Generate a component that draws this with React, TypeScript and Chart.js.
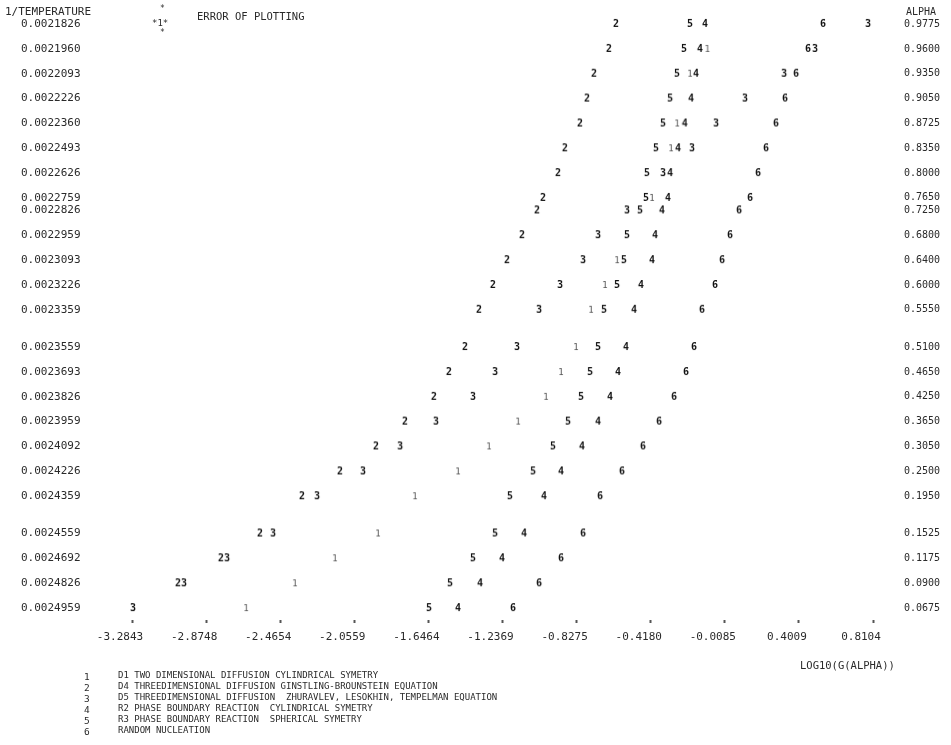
import React, { useEffect, useRef } from "react";
import { Chart, registerables } from "chart.js";

Chart.register(...registerables);

// Row keys: 1/TEMPERATURE (left) and ALPHA (right)
const INV_TEMP = [
  0.0021826, 0.002196, 0.0022093, 0.0022226, 0.002236, 0.0022493, 0.0022626,
  0.0022759, 0.0022826, 0.0022959, 0.0023093, 0.0023226, 0.0023359, 0.0023559,
  0.0023693, 0.0023826, 0.0023959, 0.0024092, 0.0024226, 0.0024359, 0.0024559,
  0.0024692, 0.0024826, 0.0024959,
];
const ALPHA = [
  0.9775, 0.96, 0.935, 0.905, 0.8725, 0.835, 0.8, 0.765, 0.725, 0.68, 0.64, 0.6,
  0.555, 0.51, 0.465, 0.425, 0.365, 0.305, 0.25, 0.195, 0.1525, 0.1175, 0.09,
  0.0675,
];

// X axis tick values: LOG10(G(ALPHA))
const X_TICKS = [
  -3.2843, -2.8748, -2.4654, -2.0559, -1.6464, -1.2369, -0.8275, -0.418,
  -0.0085, 0.4009, 0.8104,
];

// Series values, log10(g(alpha)) per row (null = not visible, overprinted)
const D1 = [
  null, -0.105, -0.201, null, -0.272, -0.306, null, -0.411, null, null, -0.604,
  -0.671, -0.748, -0.831, -0.914, -0.997, -1.151, -1.312, -1.483, -1.721,
  -1.925, -2.163, -2.384, -2.654,
];
const D4 = [
  -0.61, -0.649, -0.731, -0.77, -0.809, -0.892, -0.93, -1.013, -1.046, -1.129,
  -1.212, -1.29, -1.367, -1.444, -1.533, -1.616, -1.776, -1.936, -2.135,
  -2.345, -2.577, -2.793, -3.03, null,
];
const D5 = [
  0.783, 0.49, 0.319, 0.103, -0.057, -0.19, -0.35, null, -0.549, -0.709,
  -0.792, -0.919, -1.035, -1.157, -1.278, -1.4, -1.605, -1.803, -2.008,
  -2.262, -2.505, -2.759, -2.997, -3.279,
];
const R2 = [
  -0.118, -0.146, -0.168, -0.195, -0.23, -0.267, -0.311, -0.323, -0.356,
  -0.394, -0.411, -0.472, -0.51, -0.555, -0.599, -0.643, -0.709, -0.798,
  -0.914, -1.008, -1.118, -1.24, -1.361, -1.483,
];
const R3 = [
  -0.201, -0.234, -0.273, -0.311, -0.35, -0.389, -0.439, -0.444, -0.477,
  -0.549, -0.566, -0.604, -0.676, -0.709, -0.753, -0.803, -0.875, -0.958,
  -1.068, -1.196, -1.278, -1.4, -1.527, -1.643,
];
const RN = [
  0.534, 0.451, 0.385, 0.324, 0.274, 0.219, 0.175, 0.131, 0.07, 0.02, -0.024,
  -0.063, -0.135, -0.179, -0.223, -0.289, -0.372, -0.461, -0.577, -0.698,
  -0.792, -0.914, -1.035, -1.179,
];

const SYMBOLS = ["1", "2", "3", "4", "5", "6"];
const SERIES = [D1, D4, D5, R2, R3, RN];
const LEGEND = [
  "D1 TWO DIMENSIONAL DIFFUSION CYLINDRICAL SYMETRY",
  "D4 THREEDIMENSIONAL DIFFUSION GINSTLING-BROUNSTEIN EQUATION",
  "D5 THREEDIMENSIONAL DIFFUSION  ZHURAVLEV, LESOKHIN, TEMPELMAN EQUATION",
  "R2 PHASE BOUNDARY REACTION  CYLINDRICAL SYMETRY",
  "R3 PHASE BOUNDARY REACTION  SPHERICAL SYMETRY",
  "RANDOM NUCLEATION",
];

const MONO = '"DejaVu Sans Mono", "Liberation Mono", monospace';
const INK = "#2a2a2a";

function glyph(ch: string): HTMLCanvasElement {
  const c = document.createElement("canvas");
  c.width = 10;
  c.height = 12;
  const g = c.getContext("2d")!;
  g.font = (ch === "1" ? "" : "bold ") + (ch === "1" ? "9px " : "10px ") + MONO;
  g.fillStyle = ch === "1" ? "#555" : "#111";
  g.textAlign = "center";
  g.textBaseline = "middle";
  g.fillText(ch, 5, 6.5);
  return c;
}

export default function App() {
  const ref = useRef<HTMLCanvasElement | null>(null);

  useEffect(() => {
    if (!ref.current) return;
    const datasets = SERIES.map((vals, si) => ({
      label: SYMBOLS[si],
      data: vals
        .map((v, i) => (v === null ? null : { x: v, y: INV_TEMP[i] }))
        .filter((p) => p !== null),
      pointStyle: glyph(SYMBOLS[si]),
      pointRadius: 5,
      showLine: false,
      clip: false as any,
    }));
    const yPad = 0.0000064;
    const chart = new Chart(ref.current, {
      type: "scatter",
      data: { datasets: datasets as any },
      options: {
        animation: false,
        responsive: false,
        events: [],
        layout: { padding: { top: 12, left: 21, right: 11, bottom: 0 } },
        plugins: { legend: { display: false }, tooltip: { enabled: false } },
        scales: {
          x: {
            type: "linear",
            min: X_TICKS[0],
            max: X_TICKS[X_TICKS.length - 1],
            afterBuildTicks: (s: any) => {
              s.ticks = X_TICKS.map((v) => ({ value: v }));
            },
            afterFit: (s: any) => {
              s.height = 125;
            },
            border: { display: false },
            grid: {
              display: true,
              drawOnChartArea: false,
              drawTicks: true,
              tickLength: 3,
              tickWidth: 2,
              tickColor: "#555",
            },
            ticks: {
              autoSkip: false,
              maxRotation: 0,
              padding: 8,
              labelOffset: -12,
              color: INK,
              font: { family: MONO, size: 11 },
              callback: (_v: any, i: number) => X_TICKS[i].toFixed(4),
            },
          },
          y: {
            type: "linear",
            position: "left",
            reverse: true,
            min: INV_TEMP[0] - yPad,
            max: INV_TEMP[INV_TEMP.length - 1] + yPad,
            afterBuildTicks: (s: any) => {
              s.ticks = INV_TEMP.map((v) => ({ value: v }));
            },
            afterFit: (s: any) => {
              s.width = 111;
            },
            border: { display: false },
            grid: { display: false, drawTicks: false },
            ticks: {
              autoSkip: false,
              padding: 0,
              crossAlign: "far",
              color: INK,
              font: { family: MONO, size: 11 },
              callback: (_v: any, i: number) => INV_TEMP[i].toFixed(7),
            },
          },
          y2: {
            type: "linear",
            position: "right",
            reverse: true,
            min: INV_TEMP[0] - yPad,
            max: INV_TEMP[INV_TEMP.length - 1] + yPad,
            afterBuildTicks: (s: any) => {
              s.ticks = INV_TEMP.map((v) => ({ value: v }));
            },
            afterFit: (s: any) => {
              s.width = 67;
            },
            border: { display: false },
            grid: { display: false, drawTicks: false },
            ticks: {
              autoSkip: false,
              padding: 0,
              crossAlign: "far",
              color: INK,
              font: { family: MONO, size: 10 },
              callback: (_v: any, i: number) => ALPHA[i].toFixed(4),
            },
          },
        },
      } as any,
    });
    return () => chart.destroy();
  }, []);

  const txt = (extra: React.CSSProperties): React.CSSProperties => ({
    position: "absolute",
    fontFamily: MONO,
    color: INK,
    lineHeight: 1,
    whiteSpace: "pre",
    ...extra,
  });

  return (
    <div
      style={{
        position: "absolute",
        left: 0,
        top: 0,
        width: 951,
        height: 745,
        background: "#fff",
      }}
    >
      <canvas ref={ref} width={951} height={745} style={{ display: "block" }} />
      <div style={txt({ left: 5, top: 6, fontSize: 11 })}>1/TEMPERATURE</div>
      <div style={txt({ left: 906, top: 7, fontSize: 10 })}>ALPHA</div>
      <div style={txt({ left: 160, top: 5, fontSize: 8 })}>*</div>
      <div style={txt({ left: 152, top: 19, fontSize: 9 })}>*1*</div>
      <div style={txt({ left: 160, top: 29, fontSize: 8 })}>*</div>
      <div style={txt({ left: 197, top: 11, fontSize: 10.5 })}>ERROR OF PLOTTING</div>
      <div style={txt({ left: 800, top: 660, fontSize: 10.5 })}>LOG10(G(ALPHA))</div>
      {LEGEND.map((line, i) => (
        <React.Fragment key={i}>
          <div style={txt({ left: 84, top: 672 + i * 11, fontSize: 9.5 })}>
            {SYMBOLS[i]}
          </div>
          <div style={txt({ left: 118, top: 671 + i * 11, fontSize: 9 })}>
            {line}
          </div>
        </React.Fragment>
      ))}
    </div>
  );
}
